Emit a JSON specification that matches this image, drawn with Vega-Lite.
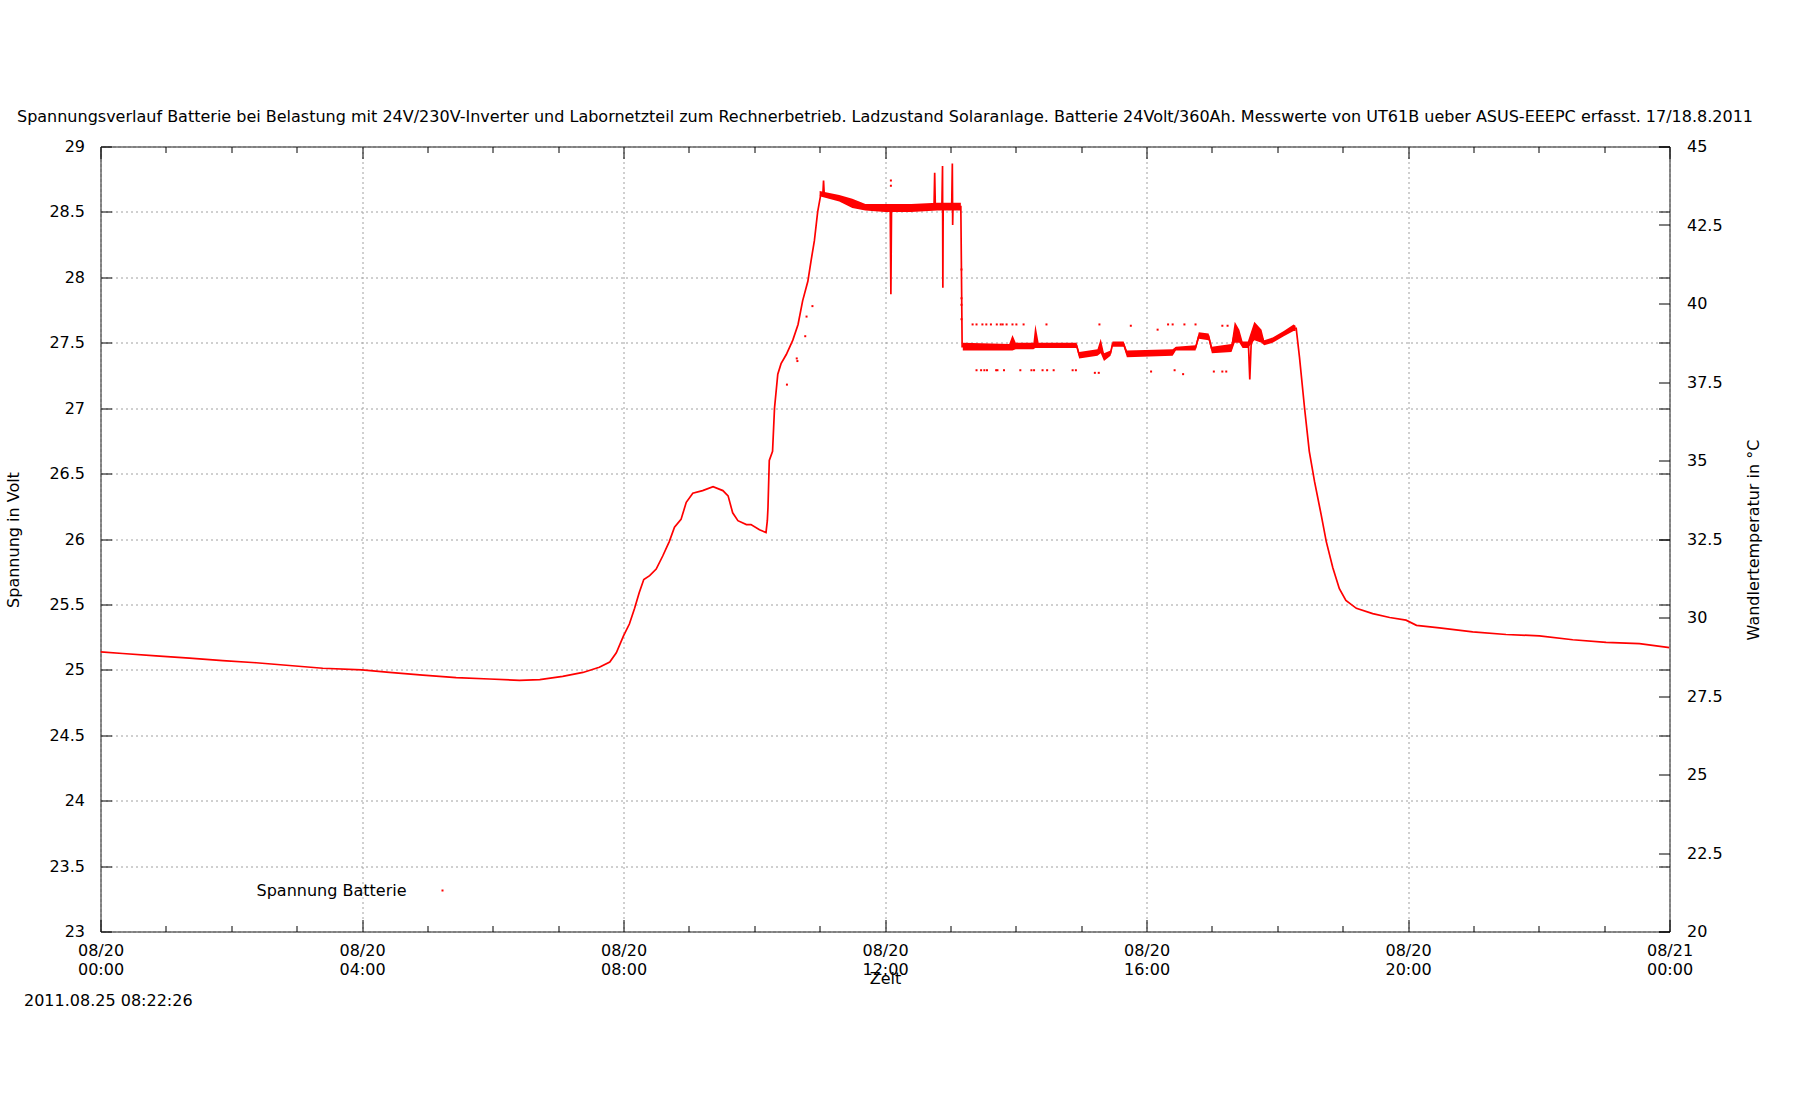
{
  "$schema": "https://vega.github.io/schema/vega-lite/v6.json",
  "width": 1569,
  "height": 785,
  "autosize": {"type": "none"},
  "padding": {"left": 100.5, "top": 146.5, "right": 130.5, "bottom": 168.5},
  "background": "white",
  "title": {
    "text": "Spannungsverlauf Batterie bei Belastung mit 24V/230V-Inverter und Labornetzteil zum Rechnerbetrieb. Ladzustand Solaranlage. Batterie 24Volt/360Ah. Messwerte von UT61B ueber ASUS-EEEPC erfasst. 17/18.8.2011",
    "font": "DejaVu Sans",
    "fontSize": 16,
    "fontWeight": "normal",
    "color": "#000000",
    "anchor": "middle",
    "frame": "group",
    "baseline": "alphabetic",
    "offset": 1
  },
  "config": {
    "font": "DejaVu Sans",
    "view": {"stroke": "#000000", "strokeWidth": 1},
    "axis": {
      "domain": false,
      "tickColor": "#000000",
      "tickWidth": 1,
      "labelColor": "#000000",
      "labelFont": "DejaVu Sans",
      "labelFontSize": 16,
      "titleFont": "DejaVu Sans",
      "titleFontSize": 16,
      "titleFontWeight": "normal",
      "titleColor": "#000000",
      "gridColor": "#a0a0a0",
      "gridDash": [2, 3],
      "gridWidth": 1,
      "gridOpacity": 1,
      "labelFlush": false,
      "labelOverlap": false,
      "labelBound": false
    }
  },
  "datasets": {
    "line": [
      {"t": 0, "v": 25.138}, {"t": 0.34, "v": 25.125}, {"t": 0.85, "v": 25.107}, {"t": 1.36, "v": 25.09},
      {"t": 1.87, "v": 25.07}, {"t": 2.38, "v": 25.054}, {"t": 2.89, "v": 25.033}, {"t": 3.4, "v": 25.012},
      {"t": 4.0, "v": 25.0}, {"t": 4.42, "v": 24.98}, {"t": 4.93, "v": 24.96}, {"t": 5.44, "v": 24.94},
      {"t": 5.95, "v": 24.93}, {"t": 6.41, "v": 24.92}, {"t": 6.72, "v": 24.925}, {"t": 7.07, "v": 24.95},
      {"t": 7.38, "v": 24.98}, {"t": 7.63, "v": 25.02}, {"t": 7.79, "v": 25.06}, {"t": 7.89, "v": 25.13},
      {"t": 8.0, "v": 25.26}, {"t": 8.09, "v": 25.35}, {"t": 8.17, "v": 25.47}, {"t": 8.24, "v": 25.59},
      {"t": 8.31, "v": 25.69}, {"t": 8.4, "v": 25.72}, {"t": 8.5, "v": 25.77}, {"t": 8.6, "v": 25.87},
      {"t": 8.7, "v": 25.98}, {"t": 8.78, "v": 26.09}, {"t": 8.88, "v": 26.15}, {"t": 8.96, "v": 26.28},
      {"t": 9.06, "v": 26.35}, {"t": 9.21, "v": 26.37}, {"t": 9.37, "v": 26.4}, {"t": 9.52, "v": 26.37},
      {"t": 9.6, "v": 26.33}, {"t": 9.67, "v": 26.2}, {"t": 9.75, "v": 26.14}, {"t": 9.88, "v": 26.11},
      {"t": 9.95, "v": 26.11}, {"t": 10.08, "v": 26.07}, {"t": 10.18, "v": 26.05}, {"t": 10.2, "v": 26.14},
      {"t": 10.21, "v": 26.24}, {"t": 10.23, "v": 26.6}, {"t": 10.28, "v": 26.67}, {"t": 10.31, "v": 27.0},
      {"t": 10.36, "v": 27.26}, {"t": 10.41, "v": 27.34}, {"t": 10.49, "v": 27.41}, {"t": 10.59, "v": 27.52},
      {"t": 10.67, "v": 27.64}, {"t": 10.74, "v": 27.82}, {"t": 10.82, "v": 27.97}, {"t": 10.87, "v": 28.13},
      {"t": 10.92, "v": 28.28}, {"t": 10.97, "v": 28.5}, {"t": 11.02, "v": 28.64}, {"t": 11.05, "v": 28.64},
      {"t": 11.06, "v": 28.74}, {"t": 11.07, "v": 28.64}, {"t": 11.3, "v": 28.6}, {"t": 11.5, "v": 28.56},
      {"t": 11.8, "v": 28.535}, {"t": 12.08, "v": 28.53}, {"t": 12.09, "v": 27.87}, {"t": 12.1, "v": 28.53},
      {"t": 12.75, "v": 28.54}, {"t": 12.76, "v": 28.8}, {"t": 12.77, "v": 28.54}, {"t": 12.87, "v": 28.54},
      {"t": 12.88, "v": 28.85}, {"t": 12.885, "v": 27.92}, {"t": 12.89, "v": 28.54}, {"t": 13.02, "v": 28.54},
      {"t": 13.03, "v": 28.87}, {"t": 13.035, "v": 28.4}, {"t": 13.04, "v": 28.54}, {"t": 13.16, "v": 28.54},
      {"t": 13.18, "v": 27.47}, {"t": 14.93, "v": 27.48}, {"t": 14.97, "v": 27.41}, {"t": 15.25, "v": 27.42},
      {"t": 15.3, "v": 27.47}, {"t": 15.35, "v": 27.39}, {"t": 15.45, "v": 27.42}, {"t": 15.48, "v": 27.49},
      {"t": 15.65, "v": 27.49}, {"t": 15.7, "v": 27.42}, {"t": 16.4, "v": 27.42}, {"t": 16.45, "v": 27.46},
      {"t": 16.75, "v": 27.46}, {"t": 16.8, "v": 27.55}, {"t": 16.95, "v": 27.55}, {"t": 17.0, "v": 27.45},
      {"t": 17.3, "v": 27.46}, {"t": 17.35, "v": 27.58}, {"t": 17.42, "v": 27.55}, {"t": 17.47, "v": 27.48},
      {"t": 17.56, "v": 27.48}, {"t": 17.58, "v": 27.22}, {"t": 17.6, "v": 27.48}, {"t": 17.65, "v": 27.58},
      {"t": 17.76, "v": 27.55}, {"t": 17.8, "v": 27.5}, {"t": 17.93, "v": 27.52}, {"t": 18.1, "v": 27.57},
      {"t": 18.25, "v": 27.61}, {"t": 18.29, "v": 27.61}, {"t": 18.34, "v": 27.39}, {"t": 18.42, "v": 26.99},
      {"t": 18.49, "v": 26.67}, {"t": 18.57, "v": 26.44}, {"t": 18.67, "v": 26.19}, {"t": 18.75, "v": 25.98},
      {"t": 18.85, "v": 25.78}, {"t": 18.95, "v": 25.62}, {"t": 19.05, "v": 25.53}, {"t": 19.21, "v": 25.47},
      {"t": 19.46, "v": 25.43}, {"t": 19.72, "v": 25.4}, {"t": 19.97, "v": 25.38}, {"t": 20.13, "v": 25.34},
      {"t": 20.48, "v": 25.32}, {"t": 20.99, "v": 25.29}, {"t": 21.5, "v": 25.27}, {"t": 22.01, "v": 25.26},
      {"t": 22.52, "v": 25.23}, {"t": 23.03, "v": 25.21}, {"t": 23.54, "v": 25.2}, {"t": 24.0, "v": 25.17}
    ],
    "band": [
      {"seg": "a", "t": 11.0, "lo": 28.62, "hi": 28.66}, {"seg": "a", "t": 11.3, "lo": 28.58, "hi": 28.63},
      {"seg": "a", "t": 11.5, "lo": 28.53, "hi": 28.6}, {"seg": "a", "t": 11.7, "lo": 28.51, "hi": 28.56},
      {"seg": "a", "t": 12.0, "lo": 28.5, "hi": 28.56}, {"seg": "a", "t": 12.4, "lo": 28.5, "hi": 28.56},
      {"seg": "a", "t": 12.8, "lo": 28.51, "hi": 28.57}, {"seg": "a", "t": 13.16, "lo": 28.51, "hi": 28.57},
      {"seg": "b", "t": 13.19, "lo": 27.44, "hi": 27.5}, {"seg": "b", "t": 13.9, "lo": 27.44, "hi": 27.49},
      {"seg": "b", "t": 13.95, "lo": 27.44, "hi": 27.56}, {"seg": "b", "t": 14.0, "lo": 27.45, "hi": 27.5},
      {"seg": "b", "t": 14.27, "lo": 27.45, "hi": 27.5}, {"seg": "b", "t": 14.3, "lo": 27.46, "hi": 27.64},
      {"seg": "b", "t": 14.35, "lo": 27.46, "hi": 27.5}, {"seg": "b", "t": 14.93, "lo": 27.46, "hi": 27.5},
      {"seg": "b", "t": 14.97, "lo": 27.38, "hi": 27.43}, {"seg": "b", "t": 15.25, "lo": 27.4, "hi": 27.45},
      {"seg": "b", "t": 15.3, "lo": 27.42, "hi": 27.53}, {"seg": "b", "t": 15.35, "lo": 27.36, "hi": 27.42},
      {"seg": "b", "t": 15.45, "lo": 27.4, "hi": 27.44}, {"seg": "b", "t": 15.48, "lo": 27.47, "hi": 27.51},
      {"seg": "b", "t": 15.65, "lo": 27.47, "hi": 27.51}, {"seg": "b", "t": 15.7, "lo": 27.39, "hi": 27.44},
      {"seg": "b", "t": 16.4, "lo": 27.4, "hi": 27.45}, {"seg": "b", "t": 16.45, "lo": 27.44, "hi": 27.47},
      {"seg": "b", "t": 16.75, "lo": 27.44, "hi": 27.48}, {"seg": "b", "t": 16.8, "lo": 27.53, "hi": 27.58},
      {"seg": "b", "t": 16.95, "lo": 27.52, "hi": 27.57}, {"seg": "b", "t": 17.0, "lo": 27.42, "hi": 27.47},
      {"seg": "b", "t": 17.3, "lo": 27.43, "hi": 27.49}, {"seg": "b", "t": 17.35, "lo": 27.5, "hi": 27.66},
      {"seg": "b", "t": 17.42, "lo": 27.5, "hi": 27.6}, {"seg": "b", "t": 17.47, "lo": 27.46, "hi": 27.51},
      {"seg": "b", "t": 17.55, "lo": 27.46, "hi": 27.51}, {"seg": "b", "t": 17.65, "lo": 27.52, "hi": 27.66},
      {"seg": "b", "t": 17.76, "lo": 27.5, "hi": 27.6}, {"seg": "b", "t": 17.8, "lo": 27.48, "hi": 27.52},
      {"seg": "b", "t": 17.93, "lo": 27.5, "hi": 27.54}, {"seg": "b", "t": 18.1, "lo": 27.55, "hi": 27.59},
      {"seg": "b", "t": 18.25, "lo": 27.59, "hi": 27.64}, {"seg": "b", "t": 18.28, "lo": 27.59, "hi": 27.63}
    ],
    "dots": [
      {"t": 13.34, "v": 27.64}, {"t": 13.4, "v": 27.64}, {"t": 13.49, "v": 27.64}, {"t": 13.55, "v": 27.64},
      {"t": 13.62, "v": 27.64}, {"t": 13.71, "v": 27.64}, {"t": 13.77, "v": 27.64}, {"t": 13.8, "v": 27.64},
      {"t": 13.86, "v": 27.64}, {"t": 13.95, "v": 27.64}, {"t": 14.01, "v": 27.64}, {"t": 14.12, "v": 27.64},
      {"t": 14.47, "v": 27.64}, {"t": 15.28, "v": 27.64}, {"t": 15.76, "v": 27.63}, {"t": 16.17, "v": 27.6},
      {"t": 16.33, "v": 27.64}, {"t": 16.4, "v": 27.64}, {"t": 16.58, "v": 27.64}, {"t": 16.75, "v": 27.64},
      {"t": 17.16, "v": 27.63}, {"t": 17.24, "v": 27.63},
      {"t": 13.4, "v": 27.29}, {"t": 13.47, "v": 27.29}, {"t": 13.52, "v": 27.29}, {"t": 13.56, "v": 27.29},
      {"t": 13.7, "v": 27.29}, {"t": 13.72, "v": 27.29}, {"t": 13.82, "v": 27.29}, {"t": 14.07, "v": 27.29},
      {"t": 14.24, "v": 27.29}, {"t": 14.28, "v": 27.29}, {"t": 14.41, "v": 27.29}, {"t": 14.48, "v": 27.29},
      {"t": 14.58, "v": 27.29}, {"t": 14.87, "v": 27.29}, {"t": 14.92, "v": 27.29}, {"t": 15.21, "v": 27.27},
      {"t": 15.27, "v": 27.27}, {"t": 16.07, "v": 27.28}, {"t": 16.43, "v": 27.29}, {"t": 16.56, "v": 27.26},
      {"t": 17.03, "v": 27.28}, {"t": 17.16, "v": 27.28}, {"t": 17.22, "v": 27.28},
      {"t": 13.17, "v": 28.06}, {"t": 13.17, "v": 27.84}, {"t": 13.17, "v": 27.79}, {"t": 13.17, "v": 27.68},
      {"t": 10.5, "v": 27.18}, {"t": 10.65, "v": 27.38}, {"t": 10.66, "v": 27.36}, {"t": 10.78, "v": 27.55},
      {"t": 10.8, "v": 27.7}, {"t": 10.89, "v": 27.78}, {"t": 12.09, "v": 28.74}, {"t": 12.09, "v": 28.7}
    ]
  },
  "layer": [
    {
      "data": {"name": "band"},
      "mark": {"type": "area", "color": "#ff0000", "opacity": 1, "clip": true},
      "encoding": {
        "x": {
          "field": "t", "type": "quantitative",
          "scale": {"domain": [0, 24], "nice": false, "zero": false},
          "axis": {
            "orient": "bottom",
            "values": [0, 4, 8, 12, 16, 20, 24],
            "grid": true,
            "tickSize": -12,
            "labelPadding": 22.5,
            "labelBaseline": "top",
            "labelAlign": "center",
            "labelLineHeight": 19,
            "labelExpr": "datum.value == 24 ? ['08/21', '00:00'] : ['08/20', (datum.value < 10 ? '0' : '') + datum.value + ':00']",
            "title": "Zeit",
            "titleY": 47,
            "titleBaseline": "middle"
          }
        },
        "y": {
          "field": "lo", "type": "quantitative",
          "scale": {"domain": [23, 29], "nice": false, "zero": false},
          "axis": {
            "orient": "left",
            "values": [23, 23.5, 24, 24.5, 25, 25.5, 26, 26.5, 27, 27.5, 28, 28.5, 29],
            "grid": true,
            "tickSize": -11,
            "labelPadding": 27,
            "labelExpr": "'' + datum.value",
            "title": "Spannung in Volt",
            "titleAngle": 270,
            "titleX": -87,
            "titleY": 393,
            "titleAlign": "center",
            "titleBaseline": "middle"
          }
        },
        "y2": {"field": "hi"},
        "detail": {"field": "seg"}
      }
    },
    {
      "data": {"name": "line"},
      "mark": {"type": "line", "color": "#ff0000", "strokeWidth": 1.7, "clip": true},
      "encoding": {
        "x": {"field": "t", "type": "quantitative", "scale": {"domain": [0, 24], "nice": false, "zero": false}, "axis": null},
        "y": {"field": "v", "type": "quantitative", "scale": {"domain": [23, 29], "nice": false, "zero": false}, "axis": null}
      }
    },
    {
      "data": {"name": "dots"},
      "mark": {"type": "point", "shape": "square", "filled": true, "size": 4, "opacity": 1, "clip": true},
      "encoding": {
        "x": {"field": "t", "type": "quantitative", "scale": {"domain": [0, 24], "nice": false, "zero": false}, "axis": null},
        "y": {"field": "v", "type": "quantitative", "scale": {"domain": [23, 29], "nice": false, "zero": false}, "axis": null},
        "color": {
          "datum": "Spannung Batterie",
          "type": "nominal",
          "scale": {"range": ["#ff0000"]},
          "legend": {
            "orient": "none",
            "legendX": 334,
            "legendY": 736,
            "title": null,
            "padding": 0,
            "labelAlign": "right",
            "labelOffset": -44,
            "labelBaseline": "middle",
            "labelFont": "DejaVu Sans",
            "labelFontSize": 16,
            "labelColor": "#000000",
            "symbolType": "square",
            "symbolSize": 4,
            "symbolStrokeWidth": 0,
            "symbolFillColor": "#ff0000"
          }
        }
      }
    },
    {
      "data": {"values": [{"v": 0}]},
      "mark": {"type": "rule", "opacity": 0},
      "encoding": {
        "x": {
          "field": "v", "type": "quantitative",
          "scale": {"domain": [0, 24], "nice": false, "zero": false},
          "axis": {
            "orient": "bottom",
            "values": [1, 2, 3, 5, 6, 7, 9, 10, 11, 13, 14, 15, 17, 18, 19, 21, 22, 23],
            "grid": false,
            "labels": false,
            "tickSize": -6,
            "title": "2011.08.25 08:22:26",
            "titleX": -77,
            "titleY": 69,
            "titleAlign": "left",
            "titleBaseline": "middle"
          }
        }
      }
    },
    {
      "data": {"values": [{"v": 0}]},
      "mark": {"type": "rule", "opacity": 0},
      "encoding": {
        "x": {
          "field": "v", "type": "quantitative",
          "scale": {"domain": [0, 24], "nice": false, "zero": false},
          "axis": {"orient": "top", "values": [0, 4, 8, 12, 16, 20, 24], "grid": false, "labels": false, "tickSize": -12, "title": null}
        }
      }
    },
    {
      "data": {"values": [{"v": 0}]},
      "mark": {"type": "rule", "opacity": 0},
      "encoding": {
        "x": {
          "field": "v", "type": "quantitative",
          "scale": {"domain": [0, 24], "nice": false, "zero": false},
          "axis": {"orient": "top", "values": [1, 2, 3, 5, 6, 7, 9, 10, 11, 13, 14, 15, 17, 18, 19, 21, 22, 23], "grid": false, "labels": false, "tickSize": -6, "title": null}
        }
      }
    },
    {
      "data": {"values": [{"v": 23}]},
      "mark": {"type": "rule", "opacity": 0},
      "encoding": {
        "y": {
          "field": "v", "type": "quantitative",
          "scale": {"domain": [23, 29], "nice": false, "zero": false},
          "axis": {"orient": "right", "values": [23, 23.5, 24, 24.5, 25, 25.5, 26, 26.5, 27, 27.5, 28, 28.5, 29], "grid": false, "labels": false, "tickSize": -11, "title": null}
        }
      }
    },
    {
      "data": {"values": [{"v": 20}]},
      "mark": {"type": "rule", "opacity": 0},
      "encoding": {
        "y": {
          "field": "v", "type": "quantitative",
          "scale": {"domain": [20, 45], "nice": false, "zero": false},
          "axis": {
            "orient": "right",
            "values": [20, 22.5, 25, 27.5, 30, 32.5, 35, 37.5, 40, 42.5, 45],
            "grid": false,
            "tickSize": -11,
            "labelPadding": 28,
            "labelAlign": "left",
            "labelExpr": "'' + datum.value",
            "title": "Wandlertemperatur in °C",
            "titleAngle": 270,
            "titleX": 84,
            "titleY": 393,
            "titleAlign": "center",
            "titleBaseline": "middle"
          }
        }
      }
    }
  ],
  "resolve": {"scale": {"x": "independent", "y": "independent"}}
}
